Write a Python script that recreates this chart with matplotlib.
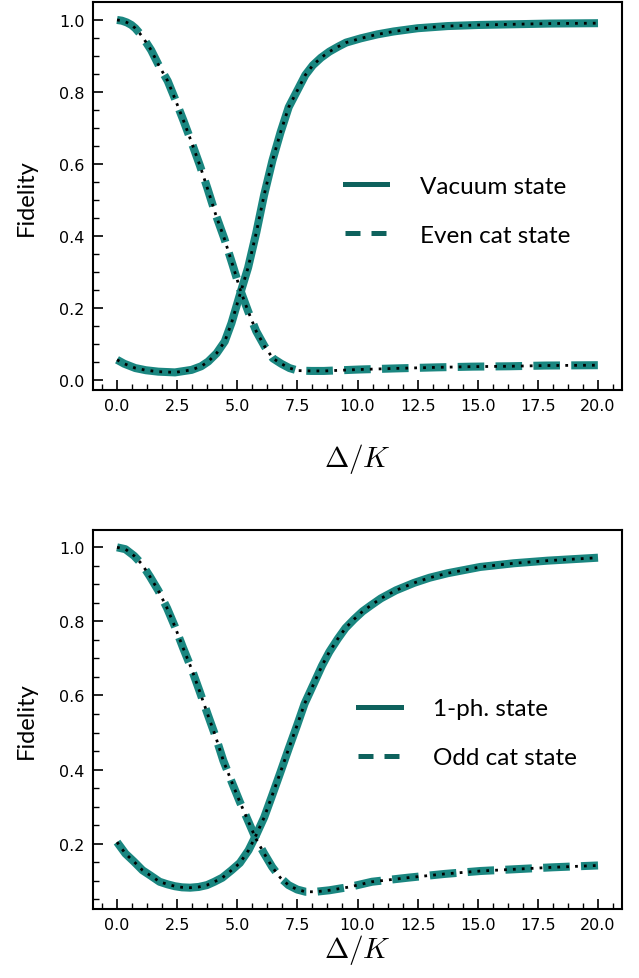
import matplotlib
matplotlib.use("Agg")
import matplotlib.pyplot as plt
from matplotlib.lines import Line2D
from matplotlib.ticker import AutoMinorLocator

plt.rcParams["mathtext.fontset"] = "cm"

# ---- top panel: vacuum state / even cat state ----
x_vac = [0, 0.3, 0.76, 1.2, 1.72, 2.41, 3.1, 3.5, 3.79, 4.14, 4.48, 4.76, 5.1, 5.45,
         5.79, 6.11, 6.46, 6.8, 7.14, 7.52, 7.83, 8.14, 8.48, 8.83, 9.2, 9.52, 10.14,
         10.83, 11.5, 12.5, 13.74, 15.0, 16.5, 18.0, 20.0]
f_vac = [0.056, 0.045, 0.033, 0.027, 0.023, 0.021, 0.028, 0.038, 0.051, 0.074, 0.107,
         0.158, 0.235, 0.312, 0.409, 0.512, 0.609, 0.688, 0.758, 0.807, 0.847, 0.874,
         0.895, 0.912, 0.926, 0.937, 0.949, 0.96, 0.968, 0.977, 0.983, 0.986, 0.988,
         0.99, 0.991]

x_even = [0, 0.2, 0.41, 0.6, 0.76, 0.93, 1.1, 1.42, 1.72, 2.11, 2.41, 2.76, 3.1, 3.45,
          3.77, 4.1, 4.46, 4.8, 5.14, 5.45, 5.79, 6.14, 6.48, 6.83, 7.17, 7.52, 8.07,
          8.6, 10.07, 11.55, 13.3, 14.8, 16.3, 17.8, 20.0]
f_even = [1.0, 0.998, 0.993, 0.986, 0.977, 0.964, 0.949, 0.916, 0.876, 0.83, 0.781,
          0.721, 0.66, 0.595, 0.53, 0.46, 0.393, 0.321, 0.247, 0.191, 0.135, 0.093,
          0.06, 0.045, 0.033, 0.026, 0.025, 0.025, 0.029, 0.032, 0.035, 0.037, 0.038,
          0.04, 0.041]

# ---- bottom panel: 1-photon state / odd cat state ----
x_one = [0, 0.35, 0.71, 1.06, 1.41, 1.77, 2.1, 2.4, 2.7, 3.04, 3.4, 3.74, 4.05, 4.38,
         4.76, 5.11, 5.47, 5.79, 6.12, 6.45, 6.78, 7.13, 7.49, 7.8, 8.19, 8.52, 8.83,
         9.18, 9.5, 9.86, 10.21, 10.55, 10.97, 11.6, 12.35, 13.0, 13.74, 15.1, 16.5,
         17.9, 20.0]
f_one = [0.204, 0.173, 0.151, 0.128, 0.113, 0.097, 0.09, 0.085, 0.082, 0.081, 0.083,
         0.088, 0.097, 0.108, 0.128, 0.148, 0.182, 0.224, 0.271, 0.33, 0.39, 0.455,
         0.52, 0.578, 0.633, 0.68, 0.718, 0.753, 0.782, 0.806, 0.827, 0.843, 0.862,
         0.884, 0.904, 0.918, 0.93, 0.947, 0.957, 0.964, 0.972]

x_odd = [0, 0.35, 0.71, 1.03, 1.37, 1.72, 2.08, 2.4, 2.75, 3.11, 3.43, 3.77, 4.1,
         4.42, 4.76, 5.11, 5.44, 5.76, 6.12, 6.45, 6.79, 7.13, 7.49, 7.84, 8.26, 8.83,
         9.67, 10.6, 12.1, 13.6, 15.1, 16.6, 18.1, 20.0]
f_odd = [1.0, 0.995, 0.977, 0.955, 0.921, 0.883, 0.836, 0.787, 0.728, 0.67, 0.612,
         0.549, 0.489, 0.424, 0.368, 0.312, 0.263, 0.215, 0.173, 0.137, 0.108, 0.088,
         0.076, 0.07, 0.07, 0.074, 0.083, 0.097, 0.108, 0.118, 0.126, 0.131, 0.136,
         0.141]

panels = [
    (x_vac, f_vac, x_even, f_even, "Vacuum state", "Even cat state"),
    (x_one, f_one, x_odd, f_odd, "1-ph. state", "Odd cat state"),
]

teal = "#1a8680"
teal_dark = "#0e625d"
label_font = "Lato"

fig = plt.figure(figsize=(6.39, 9.79), dpi=100)
ax_top = fig.add_axes([0.1455, 0.6006, 0.828, 0.396])
ax_bot = fig.add_axes([0.1455, 0.0705, 0.828, 0.387])

# legend anchor (axes coords) for each panel
leg_pos = [(0.476, 0.463), (0.501, 0.464)]

for ax, (xs, fs, xd, fd, lab_s, lab_d), lp in zip([ax_top, ax_bot], panels, leg_pos):
    ax.plot(xs, fs, color=teal, lw=5.8, solid_capstyle="butt", solid_joinstyle="round")
    ax.plot(xd, fd, color=teal, lw=5.8, linestyle=(0, (3.3, 1.4)), dash_capstyle="butt")
    ax.plot(xs, fs, color="black", lw=2, linestyle=(0, (1, 2.2)))
    ax.plot(xd, fd, color="black", lw=2, linestyle=(0, (1, 2.2)))

    ax.set_xticks([0, 2.5, 5, 7.5, 10, 12.5, 15, 17.5, 20])
    ax.set_xticklabels(["0.0", "2.5", "5.0", "7.5", "10.0", "12.5", "15.0", "17.5", "20.0"])
    ax.xaxis.set_minor_locator(AutoMinorLocator(4))
    ax.yaxis.set_minor_locator(AutoMinorLocator(4))
    ax.tick_params(which="both", direction="in", top=False, right=False, labelsize=11.5)
    ax.tick_params(which="major", length=7, width=1.2, pad=6)
    ax.tick_params(which="minor", length=4, width=1)
    for s in ax.spines.values():
        s.set_linewidth(1.5)

    ax.set_xlabel(r"$\Delta/K$", fontsize=21)
    ax.set_ylabel("Fidelity", fontsize=17, family=label_font, labelpad=16)

    handles = [Line2D([], [], color=teal_dark, lw=3.6),
               Line2D([], [], color=teal_dark, lw=3.6, linestyle=(0, (3.0, 2.2)))]
    ax.legend(handles, [lab_s, lab_d], loc="center left", bbox_to_anchor=lp,
              frameon=False, prop={"family": label_font, "size": 17.5},
              borderpad=0, borderaxespad=0,
              handlelength=1.75, handletextpad=1.35, labelspacing=1.15)

ax_top.set_yticks([0.0, 0.2, 0.4, 0.6, 0.8, 1.0])
ax_bot.set_yticks([0.2, 0.4, 0.6, 0.8, 1.0])
ax_top.xaxis.labelpad = 20
ax_bot.xaxis.labelpad = 0

fig.savefig("out.png", dpi=100)
